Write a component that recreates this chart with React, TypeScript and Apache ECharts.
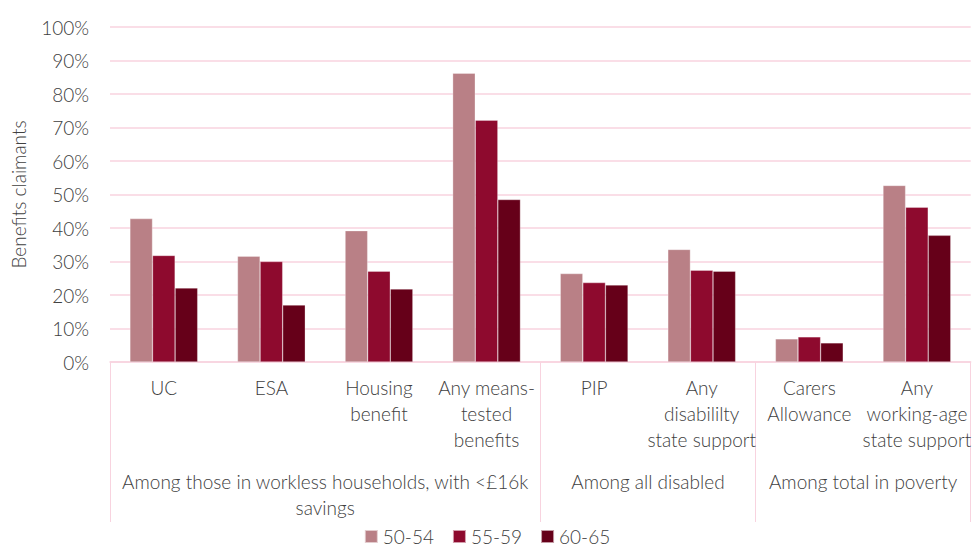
import React, { useEffect, useRef } from "react";
import * as echarts from "echarts";

const categories = [
  "UC",
  "ESA",
  "Housing\nbenefit",
  "Any means-\ntested\nbenefits",
  "PIP",
  "Any\ndisabililty\nstate support",
  "Carers\nAllowance",
  "Any\nworking-age\nstate support",
];
const groupLabels = [
  "Among those in workless households, with <£16k\nsavings",
  "Among all disabled",
  "Among total in poverty",
];
const groupSpans = [4, 2, 2];
const seriesNames = ["50-54", "55-59", "60-65"];
const values5054 = [42.8, 31.6, 39.2, 86.2, 26.4, 33.6, 6.9, 52.7];
const values5559 = [31.8, 30.0, 27.1, 72.2, 23.7, 27.4, 7.5, 46.2];
const values6065 = [22.1, 17.0, 21.8, 48.5, 23.0, 27.1, 5.7, 37.8];
const yTicks = [0, 10, 20, 30, 40, 50, 60, 70, 80, 90, 100];

const colors = ["#B98086", "#8E0A2E", "#660019"];
const pink = "#F8D3DF";
const textColor = "#404040";
const font = "Lato, 'Open Sans', sans-serif";
const fw = 300;

export default function App() {
  const ref = useRef<HTMLDivElement>(null);
  useEffect(() => {
    if (!ref.current) return;
    const chart = echarts.init(ref.current, undefined, { renderer: "svg" });

    const boundaries: number[] = [0];
    const centers: number[] = [];
    let acc = 0;
    groupSpans.forEach((s) => {
      centers.push(acc + s / 2);
      acc += s;
      boundaries.push(acc);
    });

    const seriesData = [values5054, values5559, values6065];

    chart.setOption({
      animation: false,
      textStyle: { fontFamily: font, fontWeight: fw },
      color: colors,
      grid: { left: 110, right: 1, top: 27, bottom: 189, containLabel: false },
      legend: {
        bottom: 0,
        left: "center",
        icon: "rect",
        itemWidth: 13,
        itemHeight: 13,
        itemGap: 18,
        textStyle: { fontSize: 19, color: textColor, fontFamily: font, fontWeight: fw },
        data: seriesNames,
      },
      xAxis: [
        {
          type: "category",
          data: categories,
          axisLine: { show: true, lineStyle: { color: pink, width: 1.5 } },
          axisTick: { show: false },
          axisLabel: {
            interval: 0,
            color: textColor,
            fontSize: 19,
            fontWeight: fw,
            lineHeight: 26,
            margin: 12,
            fontFamily: font,
          },
        },
        {
          type: "value",
          position: "bottom",
          min: 0,
          max: acc,
          axisLine: { show: false },
          splitLine: { show: false },
          axisTick: {
            show: true,
            customValues: boundaries,
            length: 160,
            lineStyle: { color: pink, width: 1 },
          },
          axisLabel: {
            customValues: centers,
            formatter: (v: number) => {
              const i = centers.indexOf(v);
              return i >= 0 ? groupLabels[i] : "";
            },
            color: textColor,
            fontSize: 19,
            fontWeight: fw,
            lineHeight: 26,
            margin: 106,
            fontFamily: font,
            align: "center",
          },
        },
      ],
      yAxis: {
        type: "value",
        min: 0,
        max: 100,
        interval: 10,
        name: "Benefits claimants",
        nameLocation: "middle",
        nameGap: 82,
        nameTextStyle: { fontSize: 19, color: textColor, fontFamily: font, fontWeight: fw },
        axisLine: { show: false },
        axisTick: { show: false },
        splitLine: { lineStyle: { color: pink, width: 1.5 } },
        axisLabel: {
          formatter: (v: number) => (yTicks.includes(v) ? `${v}%` : ""),
          color: textColor,
          fontSize: 19,
          fontWeight: fw,
          margin: 21,
          fontFamily: font,
        },
      },
      series: seriesNames.map((name, i) => ({
        name,
        type: "bar",
        xAxisIndex: 0,
        data: seriesData[i],
        barGap: "0%",
        barCategoryGap: "37%",
        itemStyle: { color: colors[i], borderColor: "rgba(255,255,255,0.6)", borderWidth: 0.5 },
      })),
    });

    return () => chart.dispose();
  }, []);

  return (
    <div
      ref={ref}
      style={{ position: "fixed", left: 0, top: 0, width: 974, height: 551, background: "#fff" }}
    />
  );
}
